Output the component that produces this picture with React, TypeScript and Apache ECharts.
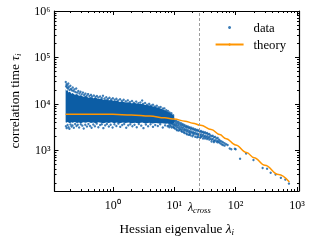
import React, { useEffect, useRef } from 'react';
import * as echarts from 'echarts';

const BLUE = '#0C5DA5';
const ORANGE = '#FF9500';
const GREY = '#9e9e9e';
const FONT = "'Liberation Serif', 'Times New Roman', serif";

// dense core of the data cloud (upper / lower envelope)
const bandLambda = [0.17, 0.175, 0.18, 0.19, 0.2, 0.21, 0.22, 0.24, 0.26, 0.28, 0.3, 0.33, 0.36, 0.4, 0.44, 0.48, 0.53, 0.58, 0.64, 0.7, 0.78, 0.86, 0.95, 1.05, 1.15, 1.3, 1.45, 1.6, 1.8, 2.0, 2.3, 2.6, 3.0, 3.4, 3.9, 4.4, 5.0, 5.7, 6.4, 7.2, 8.0, 9.0, 10];
const bandUpper = [21000, 19000, 20500, 17500, 18500, 16500, 17200, 15800, 16300, 14900, 15300, 14200, 14800, 13600, 14000, 13200, 13500, 12700, 13000, 12300, 12600, 11900, 12100, 11500, 11800, 11000, 11300, 10700, 10900, 10300, 10500, 9900, 10000, 9400, 9300, 8900, 8600, 8200, 7700, 7200, 6700, 6100, 5400];
const bandLower = [4000, 3900, 4050, 3950, 3850, 4000, 3900, 4050, 3880, 3980, 3850, 4000, 3900, 4050, 3870, 3980, 3850, 4000, 3900, 3820, 3980, 3870, 4000, 3850, 3950, 3830, 3980, 3860, 3950, 3820, 3900, 3850, 3950, 3800, 3900, 3780, 3870, 3760, 3850, 3740, 3800, 3700, 3900];

// scattered points along the upper edge of the dense cloud
const upperEdgePoints: [number, number][] = [
  [0.171, 29500], [0.173, 24000], [0.176, 26500], [0.179, 22500], [0.182, 25000], [0.186, 21500], [0.188, 27500],
  [0.192, 23000], [0.197, 20000], [0.203, 24500], [0.208, 21000], [0.215, 19500], [0.222, 22500], [0.229, 18800],
  [0.236, 20500], [0.245, 18000], [0.253, 21500], [0.262, 17500], [0.274, 19000], [0.285, 16800], [0.297, 18200],
  [0.31, 16000], [0.325, 17500], [0.34, 15500], [0.357, 16600], [0.375, 15000], [0.395, 16200], [0.415, 14700],
  [0.44, 15600], [0.46, 14300], [0.49, 15200], [0.52, 14100], [0.55, 14800], [0.58, 13700], [0.62, 14400],
  [0.66, 13300], [0.69, 14900], [0.73, 13000], [0.78, 13900], [0.83, 12800], [0.88, 13500], [0.94, 12500],
  [1.0, 13200], [1.07, 12300], [1.14, 12900], [1.22, 11900], [1.31, 12600], [1.4, 11600], [1.5, 12300],
  [1.62, 11300], [1.75, 11900], [1.9, 11000], [2.05, 11500], [2.2, 10600], [2.4, 11200], [2.6, 10300],
  [2.8, 10700], [3.0, 11800], [3.1, 10000], [3.35, 10400], [3.6, 9600], [3.9, 10000], [4.2, 9200], [4.5, 9600],
  [4.85, 8800], [5.2, 9100], [5.6, 8400], [6.0, 8600], [6.5, 7900], [6.9, 8000], [7.4, 7300], [7.9, 7000],
  [8.4, 6500], [9.0, 6300], [9.6, 5700],
];

// scattered points along the lower edge of the dense cloud
const lowerEdgePoints: [number, number][] = [
  [0.172, 3300], [0.177, 3000], [0.183, 3500], [0.19, 3150], [0.196, 2900], [0.204, 3600], [0.212, 3250],
  [0.22, 3450], [0.231, 3050], [0.243, 3700], [0.256, 3350], [0.268, 3550], [0.282, 3100], [0.3, 3650],
  [0.318, 3400], [0.335, 2950], [0.355, 3550], [0.378, 3250], [0.4, 3700], [0.425, 3350], [0.45, 3050],
  [0.48, 3600], [0.51, 3300], [0.545, 3750], [0.58, 3150], [0.62, 3500], [0.66, 3650], [0.7, 3000],
  [0.75, 3450], [0.8, 3700], [0.86, 3250], [0.92, 3550], [0.99, 3100], [1.06, 3650], [1.14, 3350],
  [1.23, 3750], [1.32, 3200], [1.42, 3500], [1.53, 3700], [1.65, 3050], [1.78, 3450], [1.92, 3650],
  [2.08, 3300], [2.25, 3550], [2.45, 3150], [2.65, 3700], [2.9, 3400], [3.15, 3000], [3.45, 3600],
  [3.75, 3300], [4.1, 3650], [4.5, 3200], [4.9, 3500], [5.4, 3350], [5.9, 3650], [6.5, 3100], [7.1, 3450],
  [7.8, 3300],
];

// the thinning cloud between 8 and 100
const midCloudPoints: [number, number][] = [
  [8.1, 5200], [8.1, 4300], [8.1, 3400], [8.3, 4700], [8.3, 3800], [8.3, 3150], [8.6, 5000], [8.6, 4100],
  [8.6, 3550], [8.8, 4500], [8.8, 3300], [9.1, 4800], [9.1, 3900], [9.1, 3100], [9.3, 4300], [9.3, 3600],
  [9.6, 4650], [9.6, 3750], [9.6, 3200], [9.9, 4200], [9.9, 3450], [9.9, 3050], [10.2, 4400], [10.2, 3650],
  [10.2, 2950], [10.5, 3950], [10.5, 3300], [10.8, 4250], [10.8, 3500], [10.8, 2850], [11.1, 3800],
  [11.1, 3150], [11.1, 2700], [11.5, 4100], [11.5, 3400], [11.8, 3700], [11.8, 3000], [11.8, 2650],
  [12.2, 3950], [12.2, 3250], [12.2, 2750], [12.6, 3550], [12.6, 2900], [13.0, 3800], [13.0, 3150],
  [13.0, 2600], [13.4, 3450], [13.4, 2800], [13.4, 2500], [13.8, 3650], [13.8, 3050], [14.3, 3300],
  [14.3, 2700], [14.3, 2450], [14.7, 3500], [14.7, 2900], [14.7, 2350], [15.2, 3200], [15.2, 2650],
  [15.7, 3350], [15.7, 2800], [15.7, 2300], [16.2, 3100], [16.2, 2550], [16.2, 2200], [16.7, 3250],
  [16.7, 2700], [17.3, 3000], [17.3, 2450], [17.3, 2150], [17.9, 3150], [17.9, 2600], [17.9, 2250],
  [18.5, 2900], [18.5, 2400], [18.5, 2100], [19.1, 3050], [19.1, 2550], [19.8, 2850], [19.8, 2350],
  [19.8, 2000], [20.5, 2950], [20.5, 2450], [20.5, 2150], [21.2, 2750], [21.2, 2300], [22.0, 2850],
  [22.0, 2400], [22.0, 1950], [22.8, 2650], [22.8, 2200], [23.6, 2750], [23.6, 2300], [23.6, 1900],
  [24.5, 2600], [24.5, 2150], [24.5, 1950], [25.4, 2700], [25.4, 2250], [26.3, 2500], [26.3, 2100],
  [26.3, 1850], [27.3, 2600], [27.3, 2200], [27.3, 1950], [28.3, 2450], [28.3, 2000], [29.4, 2500],
  [29.4, 2150], [29.4, 1800], [30.5, 2350], [30.5, 1950], [31.7, 2450], [31.7, 2050], [31.7, 1800],
  [33.0, 2300], [33.0, 1900], [34.3, 2350], [34.3, 2000], [34.3, 1750], [35.7, 2200], [35.7, 1850],
  [37.2, 2250], [37.2, 1950], [37.2, 1700], [38.8, 2100], [38.8, 1800], [40.5, 2000], [40.5, 1700],
  [40.5, 1550], [42.3, 2050], [42.3, 1750], [44.2, 1900], [44.2, 1600], [44.2, 1500], [46.3, 1950],
  [46.3, 1650], [48.5, 1800], [48.5, 1550], [50.8, 1850], [50.8, 1600], [50.8, 1480], [53.3, 1700],
  [53.3, 1500], [56.0, 1600], [56.0, 1420], [59.0, 1550], [59.0, 1350], [62.0, 1480], [62.0, 1300],
  [66.0, 1420], [66.0, 1260], [70.0, 1350], [74.0, 1300], [80.0, 1090], [85.0, 1050], [97.0, 1080],
];

// sparse tail
const tailPoints: [number, number][] = [
  [100, 1050], [118, 660], [148, 855], [195, 620], [275, 415], [325, 400],
  [372, 330], [447, 302], [545, 255], [645, 234], [738, 192],
];

const theoryLambda = [0.17, 0.5, 1, 2, 4, 7, 10, 15, 20, 27, 40, 55, 70, 100, 150, 200, 300, 500, 750];
const theoryTau = [6000, 6000, 5950, 5750, 5450, 5000, 4700, 4250, 3850, 3450, 2800, 2180, 1780, 1300, 900, 690, 475, 300, 207];

const lambdaCross = 25.6;

const xMin = 0.112;
const xMax = 1076;
const yMin = 133;
const yMax = 1e6;

const xMajorTicks = [1, 10, 100, 1000];
const xMinorTicks = [0.2, 0.3, 0.4, 0.5, 0.6, 0.7, 0.8, 0.9, 2, 3, 4, 5, 6, 7, 8, 9, 20, 30, 40, 50, 60, 70, 80, 90, 200, 300, 400, 500, 600, 700, 800, 900];
const xLabelValues = [1, 10, lambdaCross, 100, 1000];
const yMajorTicks = [1e3, 1e4, 1e5, 1e6];
const yMinorTicks = [200, 300, 400, 500, 600, 700, 800, 900, 2000, 3000, 4000, 5000, 6000, 7000, 8000, 9000, 20000, 30000, 40000, 50000, 60000, 70000, 80000, 90000, 200000, 300000, 400000, 500000, 600000, 700000, 800000, 900000];

const SUP: Record<string, string> = { '-': '⁻', '0': '⁰', '1': '¹', '2': '²', '3': '³', '4': '⁴', '5': '⁵', '6': '⁶', '7': '⁷', '8': '⁸', '9': '⁹' };
const pow10Label = (v: number) => {
  const e = String(Math.round(Math.log10(v)));
  return '10' + e.split('').map((c) => SUP[c]).join('');
};

export default function App() {
  const ref = useRef<HTMLDivElement>(null);
  useEffect(() => {
    if (!ref.current) return;
    const chart = echarts.init(ref.current, undefined, { renderer: 'svg' });

    const axisText = { fontFamily: FONT, fontSize: 12, color: '#000' };
    const mkX = (pos: 'bottom' | 'top', major: boolean, extra: any = {}) => ({
      type: 'log',
      position: pos,
      gridIndex: 0,
      min: xMin,
      max: xMax,
      logBase: 10,
      axisLine: { show: major, onZero: false, lineStyle: { color: '#000', width: 1.2 } },
      axisTick: {
        show: true,
        inside: true,
        length: major ? 4 : 2,
        customValues: major ? xMajorTicks : xMinorTicks,
        lineStyle: { color: '#000', width: 1 },
      },
      axisLabel: { show: false },
      splitLine: { show: false },
      minorTick: { show: false },
      ...extra,
    });
    const mkY = (pos: 'left' | 'right', major: boolean, extra: any = {}) => ({
      type: 'log',
      position: pos,
      gridIndex: 0,
      min: yMin,
      max: yMax,
      logBase: 10,
      axisLine: { show: major, onZero: false, lineStyle: { color: '#000', width: 1.2 } },
      axisTick: {
        show: true,
        inside: true,
        length: major ? 4 : 2,
        customValues: major ? yMajorTicks : yMinorTicks,
        lineStyle: { color: '#000', width: 1 },
      },
      axisLabel: { show: false },
      splitLine: { show: false },
      minorTick: { show: false },
      ...extra,
    });

    const scatterData = [...upperEdgePoints, ...lowerEdgePoints, ...midCloudPoints, ...tailPoints];
    const nameRich = {
      m: { fontFamily: FONT, fontSize: 13.3, fontStyle: 'italic', color: '#000' },
      s: { fontFamily: FONT, fontSize: 9, fontStyle: 'italic', color: '#000', padding: [7, 0, 0, 0] },
    };

    chart.setOption({
      animation: false,
      grid: { left: 48, right: 13, top: 11, bottom: 44, containLabel: false },
      legend: {
        data: ['data', 'theory'],
        orient: 'vertical',
        right: 26,
        top: 21,
        padding: 0,
        itemWidth: 28,
        itemHeight: 3,
        itemGap: 4,
        textStyle: { fontFamily: FONT, fontSize: 12.7, color: '#000', padding: [0, 0, 0, 5] },
      },
      xAxis: [
        mkX('bottom', true, {
          axisLabel: {
            show: true,
            customValues: xLabelValues,
            margin: 8,
            ...axisText,
            formatter: (v: number) => (Math.abs(v - lambdaCross) < 1e-6 ? '{l|λ}{s|cross}' : pow10Label(v)),
            rich: {
              l: { fontFamily: FONT, fontSize: 12, fontStyle: 'italic', color: '#000' },
              s: { fontFamily: FONT, fontSize: 8.5, fontStyle: 'italic', color: '#000', padding: [6, 0, 0, 0] },
            },
          },
          name: 'Hessian eigenvalue {m|λ}{s|i}',
          nameLocation: 'middle',
          nameGap: 29,
          nameTextStyle: { fontFamily: FONT, fontSize: 13.3, color: '#000', rich: nameRich },
        }),
        mkX('bottom', false),
        mkX('top', true),
        mkX('top', false),
      ],
      yAxis: [
        mkY('left', true, {
          axisLabel: {
            show: true,
            customValues: yMajorTicks,
            margin: 4,
            ...axisText,
            formatter: (v: number) => pow10Label(v),
          },
          name: 'correlation time {m|τ}{s|i}',
          nameLocation: 'middle',
          nameGap: 32,
          nameTextStyle: { fontFamily: FONT, fontSize: 13.3, color: '#000', rich: nameRich },
        }),
        mkY('left', false),
        mkY('right', true),
        mkY('right', false),
      ],
      series: [
        {
          name: 'data core',
          type: 'custom',
          xAxisIndex: 0,
          yAxisIndex: 0,
          clip: true,
          silent: true,
          data: bandLambda.map((l, i) => [l, bandUpper[i]]),
          renderItem: (params: any, api: any) => {
            if (params.dataIndex !== 0) return null;
            const pts: number[][] = [];
            for (let i = 0; i < bandLambda.length; i++) pts.push(api.coord([bandLambda[i], bandUpper[i]]));
            for (let i = bandLambda.length - 1; i >= 0; i--) pts.push(api.coord([bandLambda[i], bandLower[i]]));
            return { type: 'polygon', shape: { points: pts }, style: { fill: BLUE } };
          },
        },
        {
          name: 'data',
          type: 'scatter',
          xAxisIndex: 0,
          yAxisIndex: 0,
          symbol: 'circle',
          symbolSize: 2.4,
          itemStyle: { color: BLUE },
          data: scatterData,
        },
        {
          name: 'theory',
          type: 'line',
          xAxisIndex: 0,
          yAxisIndex: 0,
          showSymbol: false,
          symbol: 'none',
          smooth: 0.4,
          smoothMonotone: 'x',
          lineStyle: { color: ORANGE, width: 1.5 },
          itemStyle: { color: ORANGE },
          data: theoryLambda.map((l, i) => [l, theoryTau[i]]),
          markLine: {
            silent: true,
            symbol: ['none', 'none'],
            label: { show: false },
            lineStyle: { color: GREY, type: [3, 2], width: 1 },
            data: [{ xAxis: lambdaCross }],
          },
          z: 3,
        },
      ],
    });
    return () => chart.dispose();
  }, []);

  return <div ref={ref} style={{ position: 'fixed', left: 0, top: 0, width: 312, height: 241 }} />;
}
